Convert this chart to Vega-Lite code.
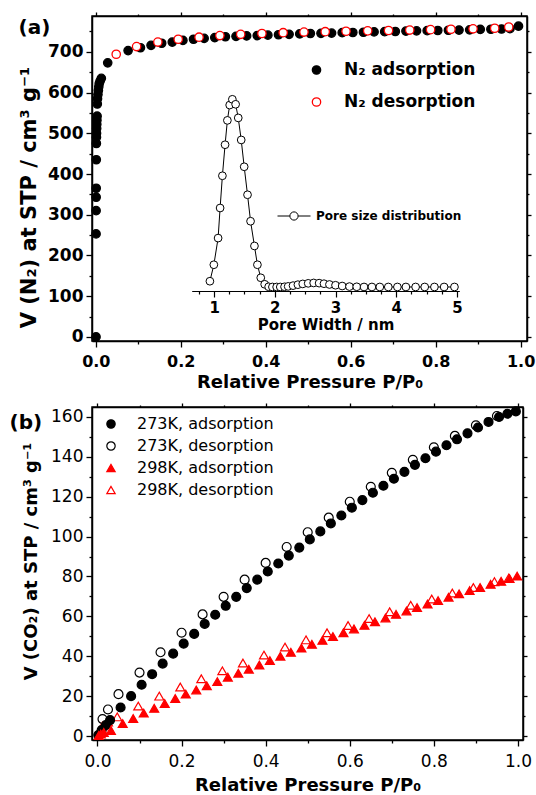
{
  "$schema": "https://vega.github.io/schema/vega-lite/v6.json",
  "background": "white",
  "padding": {"left": 8, "top": 10, "right": 0, "bottom": 0},
  "spacing": 9,
  "config": {
    "font": "DejaVu Sans",
    "view": {"stroke": "black", "strokeWidth": 1.5},
    "axis": {"grid": false, "domainColor": "black", "tickColor": "black", "labelColor": "black", "titleColor": "black", "domainWidth": 1.5, "tickWidth": 1.3, "labelFont": "DejaVu Sans", "titleFont": "DejaVu Sans", "labelOverlap": false, "labelFlush": false},
    "legend": {"labelFont": "DejaVu Sans", "labelColor": "black"},
    "title": {"font": "DejaVu Sans", "fontWeight": "bold", "fontSize": 20, "color": "black", "anchor": "start", "frame": "bounds"}
  },
  "datasets": {
    "n2": [
      {"P": 0.0005, "V": 0, "series": "N₂ adsorption"},
      {"P": 0.0006, "V": 253, "series": "N₂ adsorption"},
      {"P": 0.0007, "V": 310, "series": "N₂ adsorption"},
      {"P": 0.0008, "V": 343, "series": "N₂ adsorption"},
      {"P": 0.0009, "V": 365, "series": "N₂ adsorption"},
      {"P": 0.0011, "V": 435, "series": "N₂ adsorption"},
      {"P": 0.0013, "V": 475, "series": "N₂ adsorption"},
      {"P": 0.0015, "V": 490, "series": "N₂ adsorption"},
      {"P": 0.0017, "V": 500, "series": "N₂ adsorption"},
      {"P": 0.002, "V": 512, "series": "N₂ adsorption"},
      {"P": 0.0023, "V": 522, "series": "N₂ adsorption"},
      {"P": 0.0026, "V": 532, "series": "N₂ adsorption"},
      {"P": 0.003, "V": 542, "series": "N₂ adsorption"},
      {"P": 0.0035, "V": 572, "series": "N₂ adsorption"},
      {"P": 0.004, "V": 585, "series": "N₂ adsorption"},
      {"P": 0.005, "V": 595, "series": "N₂ adsorption"},
      {"P": 0.006, "V": 605, "series": "N₂ adsorption"},
      {"P": 0.007, "V": 614, "series": "N₂ adsorption"},
      {"P": 0.008, "V": 622, "series": "N₂ adsorption"},
      {"P": 0.01, "V": 628, "series": "N₂ adsorption"},
      {"P": 0.013, "V": 635, "series": "N₂ adsorption"},
      {"P": 0.028, "V": 673, "series": "N₂ adsorption"},
      {"P": 0.076, "V": 703, "series": "N₂ adsorption"},
      {"P": 0.105, "V": 710, "series": "N₂ adsorption"},
      {"P": 0.13, "V": 716, "series": "N₂ adsorption"},
      {"P": 0.155, "V": 721, "series": "N₂ adsorption"},
      {"P": 0.18, "V": 724, "series": "N₂ adsorption"},
      {"P": 0.205, "V": 728, "series": "N₂ adsorption"},
      {"P": 0.23, "V": 731, "series": "N₂ adsorption"},
      {"P": 0.255, "V": 733, "series": "N₂ adsorption"},
      {"P": 0.28, "V": 735, "series": "N₂ adsorption"},
      {"P": 0.305, "V": 737, "series": "N₂ adsorption"},
      {"P": 0.33, "V": 738, "series": "N₂ adsorption"},
      {"P": 0.355, "V": 739, "series": "N₂ adsorption"},
      {"P": 0.38, "V": 740, "series": "N₂ adsorption"},
      {"P": 0.405, "V": 741, "series": "N₂ adsorption"},
      {"P": 0.43, "V": 742, "series": "N₂ adsorption"},
      {"P": 0.455, "V": 743, "series": "N₂ adsorption"},
      {"P": 0.48, "V": 744, "series": "N₂ adsorption"},
      {"P": 0.505, "V": 745, "series": "N₂ adsorption"},
      {"P": 0.53, "V": 745.5, "series": "N₂ adsorption"},
      {"P": 0.555, "V": 746, "series": "N₂ adsorption"},
      {"P": 0.58, "V": 747, "series": "N₂ adsorption"},
      {"P": 0.605, "V": 747.5, "series": "N₂ adsorption"},
      {"P": 0.63, "V": 748, "series": "N₂ adsorption"},
      {"P": 0.655, "V": 749, "series": "N₂ adsorption"},
      {"P": 0.68, "V": 749.5, "series": "N₂ adsorption"},
      {"P": 0.705, "V": 750, "series": "N₂ adsorption"},
      {"P": 0.73, "V": 751, "series": "N₂ adsorption"},
      {"P": 0.755, "V": 751.5, "series": "N₂ adsorption"},
      {"P": 0.78, "V": 752, "series": "N₂ adsorption"},
      {"P": 0.805, "V": 752.5, "series": "N₂ adsorption"},
      {"P": 0.83, "V": 753, "series": "N₂ adsorption"},
      {"P": 0.855, "V": 753.5, "series": "N₂ adsorption"},
      {"P": 0.88, "V": 754, "series": "N₂ adsorption"},
      {"P": 0.905, "V": 755, "series": "N₂ adsorption"},
      {"P": 0.93, "V": 755.5, "series": "N₂ adsorption"},
      {"P": 0.955, "V": 756, "series": "N₂ adsorption"},
      {"P": 0.975, "V": 757, "series": "N₂ adsorption"},
      {"P": 0.995, "V": 763, "series": "N₂ adsorption"},
      {"P": 0.048, "V": 694, "series": "N₂ desorption"},
      {"P": 0.096, "V": 713, "series": "N₂ desorption"},
      {"P": 0.146, "V": 724, "series": "N₂ desorption"},
      {"P": 0.194, "V": 731, "series": "N₂ desorption"},
      {"P": 0.243, "V": 736, "series": "N₂ desorption"},
      {"P": 0.292, "V": 740, "series": "N₂ desorption"},
      {"P": 0.341, "V": 743, "series": "N₂ desorption"},
      {"P": 0.391, "V": 745, "series": "N₂ desorption"},
      {"P": 0.441, "V": 747, "series": "N₂ desorption"},
      {"P": 0.49, "V": 748.5, "series": "N₂ desorption"},
      {"P": 0.54, "V": 749.5, "series": "N₂ desorption"},
      {"P": 0.589, "V": 750.5, "series": "N₂ desorption"},
      {"P": 0.64, "V": 751.5, "series": "N₂ desorption"},
      {"P": 0.689, "V": 752.5, "series": "N₂ desorption"},
      {"P": 0.739, "V": 753.5, "series": "N₂ desorption"},
      {"P": 0.788, "V": 754.5, "series": "N₂ desorption"},
      {"P": 0.836, "V": 755.5, "series": "N₂ desorption"},
      {"P": 0.888, "V": 756.5, "series": "N₂ desorption"},
      {"P": 0.939, "V": 758, "series": "N₂ desorption"},
      {"P": 0.972, "V": 761, "series": "N₂ desorption"}
    ],
    "psd": [
      {"w": 0.93, "dv": 0.051, "curve": "Pore size distribution"},
      {"w": 0.995, "dv": 0.137, "curve": "Pore size distribution"},
      {"w": 1.065, "dv": 0.276, "curve": "Pore size distribution"},
      {"w": 1.098, "dv": 0.433, "curve": "Pore size distribution"},
      {"w": 1.136, "dv": 0.601, "curve": "Pore size distribution"},
      {"w": 1.18, "dv": 0.763, "curve": "Pore size distribution"},
      {"w": 1.218, "dv": 0.89, "curve": "Pore size distribution"},
      {"w": 1.256, "dv": 0.97, "curve": "Pore size distribution"},
      {"w": 1.3, "dv": 1.0, "curve": "Pore size distribution"},
      {"w": 1.354, "dv": 0.974, "curve": "Pore size distribution"},
      {"w": 1.397, "dv": 0.903, "curve": "Pore size distribution"},
      {"w": 1.446, "dv": 0.788, "curve": "Pore size distribution"},
      {"w": 1.495, "dv": 0.648, "curve": "Pore size distribution"},
      {"w": 1.55, "dv": 0.502, "curve": "Pore size distribution"},
      {"w": 1.6, "dv": 0.364, "curve": "Pore size distribution"},
      {"w": 1.664, "dv": 0.235, "curve": "Pore size distribution"},
      {"w": 1.713, "dv": 0.137, "curve": "Pore size distribution"},
      {"w": 1.768, "dv": 0.069, "curve": "Pore size distribution"},
      {"w": 1.833, "dv": 0.035, "curve": "Pore size distribution"},
      {"w": 1.898, "dv": 0.022, "curve": "Pore size distribution"},
      {"w": 1.96, "dv": 0.021, "curve": "Pore size distribution"},
      {"w": 2.03, "dv": 0.021, "curve": "Pore size distribution"},
      {"w": 2.09, "dv": 0.021, "curve": "Pore size distribution"},
      {"w": 2.16, "dv": 0.022, "curve": "Pore size distribution"},
      {"w": 2.22, "dv": 0.024, "curve": "Pore size distribution"},
      {"w": 2.3, "dv": 0.028, "curve": "Pore size distribution"},
      {"w": 2.38, "dv": 0.033, "curve": "Pore size distribution"},
      {"w": 2.46, "dv": 0.037, "curve": "Pore size distribution"},
      {"w": 2.55, "dv": 0.04, "curve": "Pore size distribution"},
      {"w": 2.64, "dv": 0.042, "curve": "Pore size distribution"},
      {"w": 2.73, "dv": 0.041, "curve": "Pore size distribution"},
      {"w": 2.81, "dv": 0.038, "curve": "Pore size distribution"},
      {"w": 2.9, "dv": 0.034, "curve": "Pore size distribution"},
      {"w": 3.0, "dv": 0.03, "curve": "Pore size distribution"},
      {"w": 3.11, "dv": 0.026, "curve": "Pore size distribution"},
      {"w": 3.23, "dv": 0.023, "curve": "Pore size distribution"},
      {"w": 3.35, "dv": 0.022, "curve": "Pore size distribution"},
      {"w": 3.47, "dv": 0.021, "curve": "Pore size distribution"},
      {"w": 3.6, "dv": 0.021, "curve": "Pore size distribution"},
      {"w": 3.73, "dv": 0.021, "curve": "Pore size distribution"},
      {"w": 3.87, "dv": 0.021, "curve": "Pore size distribution"},
      {"w": 4.02, "dv": 0.021, "curve": "Pore size distribution"},
      {"w": 4.16, "dv": 0.021, "curve": "Pore size distribution"},
      {"w": 4.32, "dv": 0.021, "curve": "Pore size distribution"},
      {"w": 4.47, "dv": 0.021, "curve": "Pore size distribution"},
      {"w": 4.63, "dv": 0.021, "curve": "Pore size distribution"},
      {"w": 4.79, "dv": 0.021, "curve": "Pore size distribution"},
      {"w": 4.96, "dv": 0.021, "curve": "Pore size distribution"}
    ],
    "co2": [
      {"P": 0.012, "V": 8.5, "sample": "273K, desorption"},
      {"P": 0.025, "V": 13.3, "sample": "273K, desorption"},
      {"P": 0.05, "V": 21, "sample": "273K, desorption"},
      {"P": 0.1, "V": 31.8, "sample": "273K, desorption"},
      {"P": 0.15, "V": 42, "sample": "273K, desorption"},
      {"P": 0.2, "V": 51.8, "sample": "273K, desorption"},
      {"P": 0.25, "V": 61, "sample": "273K, desorption"},
      {"P": 0.3, "V": 69.8, "sample": "273K, desorption"},
      {"P": 0.35, "V": 78.4, "sample": "273K, desorption"},
      {"P": 0.4, "V": 86.8, "sample": "273K, desorption"},
      {"P": 0.45, "V": 94.8, "sample": "273K, desorption"},
      {"P": 0.5, "V": 102.2, "sample": "273K, desorption"},
      {"P": 0.55, "V": 109.5, "sample": "273K, desorption"},
      {"P": 0.6, "V": 117.5, "sample": "273K, desorption"},
      {"P": 0.65, "V": 125, "sample": "273K, desorption"},
      {"P": 0.7, "V": 132, "sample": "273K, desorption"},
      {"P": 0.75, "V": 138.5, "sample": "273K, desorption"},
      {"P": 0.8, "V": 144.8, "sample": "273K, desorption"},
      {"P": 0.85, "V": 150.5, "sample": "273K, desorption"},
      {"P": 0.9, "V": 155.8, "sample": "273K, desorption"},
      {"P": 0.95, "V": 160.5, "sample": "273K, desorption"},
      {"P": 0.012, "V": 5, "sample": "298K, desorption"},
      {"P": 0.025, "V": 7, "sample": "298K, desorption"},
      {"P": 0.047, "V": 9.6, "sample": "298K, desorption"},
      {"P": 0.097, "V": 15, "sample": "298K, desorption"},
      {"P": 0.147, "V": 20, "sample": "298K, desorption"},
      {"P": 0.197, "V": 24.6, "sample": "298K, desorption"},
      {"P": 0.247, "V": 28.7, "sample": "298K, desorption"},
      {"P": 0.297, "V": 32.7, "sample": "298K, desorption"},
      {"P": 0.346, "V": 36.6, "sample": "298K, desorption"},
      {"P": 0.396, "V": 40.6, "sample": "298K, desorption"},
      {"P": 0.446, "V": 44.6, "sample": "298K, desorption"},
      {"P": 0.496, "V": 48.2, "sample": "298K, desorption"},
      {"P": 0.546, "V": 51.8, "sample": "298K, desorption"},
      {"P": 0.596, "V": 55.4, "sample": "298K, desorption"},
      {"P": 0.646, "V": 58.9, "sample": "298K, desorption"},
      {"P": 0.695, "V": 62.3, "sample": "298K, desorption"},
      {"P": 0.745, "V": 65.6, "sample": "298K, desorption"},
      {"P": 0.795, "V": 68.7, "sample": "298K, desorption"},
      {"P": 0.844, "V": 71.7, "sample": "298K, desorption"},
      {"P": 0.894, "V": 74.5, "sample": "298K, desorption"},
      {"P": 0.944, "V": 77.4, "sample": "298K, desorption"},
      {"P": 0.978, "V": 79.2, "sample": "298K, desorption"},
      {"P": 0.002, "V": 0.5, "sample": "273K, adsorption"},
      {"P": 0.01, "V": 3, "sample": "273K, adsorption"},
      {"P": 0.02, "V": 5.5, "sample": "273K, adsorption"},
      {"P": 0.03, "V": 8, "sample": "273K, adsorption"},
      {"P": 0.055, "V": 14.3, "sample": "273K, adsorption"},
      {"P": 0.08, "V": 20, "sample": "273K, adsorption"},
      {"P": 0.105, "V": 25.7, "sample": "273K, adsorption"},
      {"P": 0.13, "V": 31, "sample": "273K, adsorption"},
      {"P": 0.155, "V": 36.3, "sample": "273K, adsorption"},
      {"P": 0.18, "V": 41.3, "sample": "273K, adsorption"},
      {"P": 0.205, "V": 46.3, "sample": "273K, adsorption"},
      {"P": 0.23, "V": 51.2, "sample": "273K, adsorption"},
      {"P": 0.255, "V": 56.2, "sample": "273K, adsorption"},
      {"P": 0.28, "V": 60.8, "sample": "273K, adsorption"},
      {"P": 0.305, "V": 65.3, "sample": "273K, adsorption"},
      {"P": 0.33, "V": 69.8, "sample": "273K, adsorption"},
      {"P": 0.355, "V": 74.2, "sample": "273K, adsorption"},
      {"P": 0.38, "V": 78.4, "sample": "273K, adsorption"},
      {"P": 0.405, "V": 82.5, "sample": "273K, adsorption"},
      {"P": 0.43, "V": 86.5, "sample": "273K, adsorption"},
      {"P": 0.455, "V": 90.5, "sample": "273K, adsorption"},
      {"P": 0.48, "V": 94.5, "sample": "273K, adsorption"},
      {"P": 0.505, "V": 98.6, "sample": "273K, adsorption"},
      {"P": 0.53, "V": 102.6, "sample": "273K, adsorption"},
      {"P": 0.555, "V": 106.6, "sample": "273K, adsorption"},
      {"P": 0.58, "V": 110.6, "sample": "273K, adsorption"},
      {"P": 0.605, "V": 114.5, "sample": "273K, adsorption"},
      {"P": 0.63, "V": 118.3, "sample": "273K, adsorption"},
      {"P": 0.655, "V": 122, "sample": "273K, adsorption"},
      {"P": 0.68, "V": 125.5, "sample": "273K, adsorption"},
      {"P": 0.705, "V": 129, "sample": "273K, adsorption"},
      {"P": 0.73, "V": 132.5, "sample": "273K, adsorption"},
      {"P": 0.755, "V": 136, "sample": "273K, adsorption"},
      {"P": 0.78, "V": 139.3, "sample": "273K, adsorption"},
      {"P": 0.805, "V": 142.6, "sample": "273K, adsorption"},
      {"P": 0.83, "V": 145.8, "sample": "273K, adsorption"},
      {"P": 0.855, "V": 148.8, "sample": "273K, adsorption"},
      {"P": 0.88, "V": 151.8, "sample": "273K, adsorption"},
      {"P": 0.905, "V": 154.7, "sample": "273K, adsorption"},
      {"P": 0.93, "V": 157.5, "sample": "273K, adsorption"},
      {"P": 0.955, "V": 160, "sample": "273K, adsorption"},
      {"P": 0.975, "V": 161.6, "sample": "273K, adsorption"},
      {"P": 0.995, "V": 162.8, "sample": "273K, adsorption"},
      {"P": 0.003, "V": 0.3, "sample": "298K, adsorption"},
      {"P": 0.008, "V": 1, "sample": "298K, adsorption"},
      {"P": 0.015, "V": 1.8, "sample": "298K, adsorption"},
      {"P": 0.032, "V": 2.8, "sample": "298K, adsorption"},
      {"P": 0.06, "V": 6.2, "sample": "298K, adsorption"},
      {"P": 0.085, "V": 8.8, "sample": "298K, adsorption"},
      {"P": 0.11, "V": 11.5, "sample": "298K, adsorption"},
      {"P": 0.135, "V": 13.9, "sample": "298K, adsorption"},
      {"P": 0.16, "V": 16.3, "sample": "298K, adsorption"},
      {"P": 0.185, "V": 18.8, "sample": "298K, adsorption"},
      {"P": 0.21, "V": 21, "sample": "298K, adsorption"},
      {"P": 0.235, "V": 23.1, "sample": "298K, adsorption"},
      {"P": 0.26, "V": 25.2, "sample": "298K, adsorption"},
      {"P": 0.285, "V": 27.3, "sample": "298K, adsorption"},
      {"P": 0.31, "V": 29.5, "sample": "298K, adsorption"},
      {"P": 0.335, "V": 31.5, "sample": "298K, adsorption"},
      {"P": 0.36, "V": 33.5, "sample": "298K, adsorption"},
      {"P": 0.385, "V": 35.6, "sample": "298K, adsorption"},
      {"P": 0.41, "V": 37.8, "sample": "298K, adsorption"},
      {"P": 0.435, "V": 40, "sample": "298K, adsorption"},
      {"P": 0.46, "V": 42, "sample": "298K, adsorption"},
      {"P": 0.485, "V": 44.1, "sample": "298K, adsorption"},
      {"P": 0.51, "V": 46, "sample": "298K, adsorption"},
      {"P": 0.535, "V": 48, "sample": "298K, adsorption"},
      {"P": 0.56, "V": 49.9, "sample": "298K, adsorption"},
      {"P": 0.585, "V": 51.8, "sample": "298K, adsorption"},
      {"P": 0.61, "V": 53.7, "sample": "298K, adsorption"},
      {"P": 0.635, "V": 55.5, "sample": "298K, adsorption"},
      {"P": 0.66, "V": 57.3, "sample": "298K, adsorption"},
      {"P": 0.685, "V": 59.2, "sample": "298K, adsorption"},
      {"P": 0.71, "V": 61, "sample": "298K, adsorption"},
      {"P": 0.735, "V": 62.7, "sample": "298K, adsorption"},
      {"P": 0.76, "V": 64.4, "sample": "298K, adsorption"},
      {"P": 0.785, "V": 66.2, "sample": "298K, adsorption"},
      {"P": 0.81, "V": 67.9, "sample": "298K, adsorption"},
      {"P": 0.835, "V": 69.6, "sample": "298K, adsorption"},
      {"P": 0.86, "V": 71.3, "sample": "298K, adsorption"},
      {"P": 0.885, "V": 72.9, "sample": "298K, adsorption"},
      {"P": 0.91, "V": 74.5, "sample": "298K, adsorption"},
      {"P": 0.935, "V": 76.1, "sample": "298K, adsorption"},
      {"P": 0.96, "V": 77.6, "sample": "298K, adsorption"},
      {"P": 0.98, "V": 79, "sample": "298K, adsorption"},
      {"P": 0.998, "V": 80.2, "sample": "298K, adsorption"}
    ]
  },
  "vconcat": [
    {
      "width": 435,
      "height": 325,
      "title": {"text": "(a)", "offset": -27},
      "layer": [
        {
          "data": {"name": "n2"},
          "mark": {"type": "point", "filled": true, "size": 70, "opacity": 1, "strokeWidth": 1.3},
          "encoding": {
            "x": {"field": "P", "type": "quantitative",
              "scale": {"domain": [-0.009, 1.015], "nice": false, "zero": false},
              "axis": {"title": "Relative Pressure P/P₀", "orient": "bottom",
                "values": [0, 0.1, 0.2, 0.3, 0.4, 0.5, 0.6, 0.7, 0.8, 0.9, 1.0],
                "labelExpr": "round(datum.value*10) % 2 == 0 ? format(datum.value, '.1f') : ''",
                "tickSize": {"condition": {"test": "round(datum.value*10) % 2 == 0", "value": 6}, "value": 3},
                "labelFontSize": 16, "labelFontWeight": "bold", "labelPadding": 6,
                "titleFontSize": 18, "titleFontWeight": "bold", "titlePadding": 4}},
            "y": {"field": "V", "type": "quantitative",
              "scale": {"domain": [-10, 788], "nice": false, "zero": false},
              "axis": {"title": "V (N₂) at STP / cm³ g⁻¹", "orient": "left",
                "values": [0, 50, 100, 150, 200, 250, 300, 350, 400, 450, 500, 550, 600, 650, 700, 750],
                "labelExpr": "datum.value % 100 == 0 ? datum.label : ''",
                "tickSize": {"condition": {"test": "datum.value % 100 == 0", "value": 6}, "value": 3},
                "labelFontSize": 17, "labelFontWeight": "bold", "labelPadding": 3,
                "titleFontSize": 21, "titleFontWeight": "bold", "titlePadding": 8, "titleY": 181}},
            "fill": {"field": "series", "type": "nominal",
              "scale": {"domain": ["N₂ adsorption", "N₂ desorption"], "range": ["black", "white"]},
              "legend": {"title": null, "orient": "none", "legendX": 216, "legendY": 45.5, "labelFontSize": 17, "labelFontWeight": "bold", "labelOffset": 19, "rowPadding": 14, "symbolSize": 70, "symbolStrokeWidth": 1.3}},
            "stroke": {"field": "series", "type": "nominal",
              "scale": {"domain": ["N₂ adsorption", "N₂ desorption"], "range": ["black", "#ff0000"]},
              "legend": {"title": null, "orient": "none", "legendX": 216, "legendY": 45.5, "labelFontSize": 17, "labelFontWeight": "bold", "labelOffset": 19, "rowPadding": 14, "symbolSize": 70, "symbolStrokeWidth": 1.3}}
          }
        },
        {
          "data": {"name": "n2"},
          "mark": {"type": "point", "opacity": 0},
          "encoding": {
            "x": {"field": "P", "type": "quantitative",
              "scale": {"domain": [-0.009, 1.015], "nice": false, "zero": false},
              "axis": {"title": null, "orient": "top", "labels": false,
                "values": [0, 0.1, 0.2, 0.3, 0.4, 0.5, 0.6, 0.7, 0.8, 0.9, 1.0],
                "tickSize": {"condition": {"test": "round(datum.value*10) % 2 == 0", "value": 4}, "value": 2}}},
            "y": {"field": "V", "type": "quantitative",
              "scale": {"domain": [-10, 788], "nice": false, "zero": false},
              "axis": {"title": null, "orient": "right", "labels": false,
                "values": [0, 50, 100, 150, 200, 250, 300, 350, 400, 450, 500, 550, 600, 650, 700, 750],
                "tickSize": {"condition": {"test": "datum.value % 100 == 0", "value": 4}, "value": 2}}}
          }
        },
        {
          "data": {"name": "psd"},
          "encoding": {
            "x": {"field": "w", "type": "quantitative",
              "scale": {"domain": [0.63, 5.04], "range": [99.7, 367.3], "nice": false, "zero": false},
              "axis": {"title": "Pore Width / nm", "orient": "bottom", "offset": -50,
                "values": [0.75, 1, 1.25, 1.5, 1.75, 2, 2.25, 2.5, 2.75, 3, 3.25, 3.5, 3.75, 4, 4.25, 4.5, 4.75, 5],
                "labelExpr": "datum.value % 1 == 0 ? format(datum.value, 'd') : ''",
                "tickSize": {"condition": {"test": "datum.value % 1 == 0", "value": 6}, "value": 3},
                "domainWidth": 1.2, "tickWidth": 1.2,
                "labelFontSize": 15, "labelFontWeight": "bold", "labelPadding": 3,
                "titleFontSize": 15, "titleFontWeight": "bold", "titlePadding": 2}},
            "y": {"field": "dv", "type": "quantitative",
              "scale": {"domain": [0, 1], "range": [275, 83.3], "nice": false, "zero": false},
              "axis": null}
          },
          "layer": [
            {
              "mark": {"type": "line", "strokeWidth": 1},
              "encoding": {
                "stroke": {"field": "curve", "type": "nominal",
                  "scale": {"range": ["black"]},
                  "legend": {"title": null, "orient": "none", "legendX": 194, "legendY": 192, "labelFontSize": 12, "labelFontWeight": "bold", "labelOffset": 14,
                    "symbolType": "M-2.2,0L-0.55,0M0.55,0L2.2,0M0.55,0A0.55,0.55,0,1,1,-0.55,0A0.55,0.55,0,1,1,0.55,0",
                    "symbolSize": 225, "symbolStrokeWidth": 1}}
              }
            },
            {
              "mark": {"type": "point", "shape": "circle", "filled": true, "fill": "white", "stroke": "black", "strokeWidth": 1, "size": 60, "opacity": 1}
            }
          ]
        }
      ],
      "resolve": {
        "scale": {"x": "independent", "y": "independent", "stroke": "independent", "fill": "independent"},
        "axis": {"x": "independent", "y": "independent"},
        "legend": {"stroke": "independent", "fill": "independent"}
      }
    },
    {
      "width": 431,
      "height": 333,
      "title": {"text": "(b)", "offset": -31, "dx": -13},
      "data": {"name": "co2"},
      "layer": [
        {
          "mark": {"type": "point", "filled": true, "size": 80, "opacity": 1, "strokeWidth": 1.2},
          "encoding": {
            "x": {"field": "P", "type": "quantitative",
              "scale": {"domain": [-0.013, 1.012], "nice": false, "zero": false},
              "axis": {"title": "Relative Pressure P/P₀", "orient": "bottom",
                "values": [0, 0.1, 0.2, 0.3, 0.4, 0.5, 0.6, 0.7, 0.8, 0.9, 1.0],
                "labelExpr": "round(datum.value*10) % 2 == 0 ? format(datum.value, '.1f') : ''",
                "tickSize": {"condition": {"test": "round(datum.value*10) % 2 == 0", "value": 6}, "value": 3},
                "labelFontSize": 17, "labelPadding": 7,
                "titleFontSize": 18, "titleFontWeight": "bold", "titlePadding": 7}},
            "y": {"field": "V", "type": "quantitative",
              "scale": {"domain": [-2, 165], "nice": false, "zero": false},
              "axis": {"title": "V (CO₂) at STP / cm³ g⁻¹", "orient": "left",
                "values": [0, 10, 20, 30, 40, 50, 60, 70, 80, 90, 100, 110, 120, 130, 140, 150, 160],
                "labelExpr": "datum.value % 20 == 0 ? datum.label : ''",
                "tickSize": {"condition": {"test": "datum.value % 20 == 0", "value": 6}, "value": 3},
                "labelFontSize": 17, "labelPadding": 3,
                "titleFontSize": 18, "titleFontWeight": "bold", "titlePadding": 10, "titleY": 154}},
            "shape": {"field": "sample", "type": "nominal",
              "scale": {"domain": ["273K, adsorption", "273K, desorption", "298K, adsorption", "298K, desorption"], "range": ["circle", "circle", "triangle-up", "triangle-up"]},
              "legend": {"title": null, "orient": "none", "legendX": 11, "legendY": 9, "labelFontSize": 16, "labelOffset": 18, "rowPadding": 6, "symbolSize": 70, "symbolStrokeWidth": 1.2}},
            "fill": {"field": "sample", "type": "nominal",
              "scale": {"domain": ["273K, adsorption", "273K, desorption", "298K, adsorption", "298K, desorption"], "range": ["black", "white", "#ff0000", "white"]},
              "legend": {"title": null, "orient": "none", "legendX": 11, "legendY": 9, "labelFontSize": 16, "labelOffset": 18, "rowPadding": 6, "symbolSize": 70, "symbolStrokeWidth": 1.2}},
            "stroke": {"field": "sample", "type": "nominal",
              "scale": {"domain": ["273K, adsorption", "273K, desorption", "298K, adsorption", "298K, desorption"], "range": ["black", "black", "#ff0000", "#ff0000"]},
              "legend": {"title": null, "orient": "none", "legendX": 11, "legendY": 9, "labelFontSize": 16, "labelOffset": 18, "rowPadding": 6, "symbolSize": 70, "symbolStrokeWidth": 1.2}}
          }
        },
        {
          "mark": {"type": "point", "opacity": 0},
          "encoding": {
            "x": {"field": "P", "type": "quantitative",
              "axis": {"title": null, "orient": "top", "labels": false,
                "values": [0, 0.1, 0.2, 0.3, 0.4, 0.5, 0.6, 0.7, 0.8, 0.9, 1.0],
                "tickSize": {"condition": {"test": "round(datum.value*10) % 2 == 0", "value": 4}, "value": 2}}},
            "y": {"field": "V", "type": "quantitative",
              "axis": {"title": null, "orient": "right", "labels": false,
                "values": [0, 10, 20, 30, 40, 50, 60, 70, 80, 90, 100, 110, 120, 130, 140, 150, 160],
                "tickSize": {"condition": {"test": "datum.value % 20 == 0", "value": 4}, "value": 2}}}
          }
        }
      ],
      "resolve": {
        "axis": {"x": "independent", "y": "independent"},
        "legend": {"fill": "independent", "stroke": "independent", "shape": "independent"}
      }
    }
  ],
  "resolve": {
    "scale": {"fill": "independent", "stroke": "independent", "shape": "independent"},
    "legend": {"fill": "independent", "stroke": "independent", "shape": "independent"}
  }
}
